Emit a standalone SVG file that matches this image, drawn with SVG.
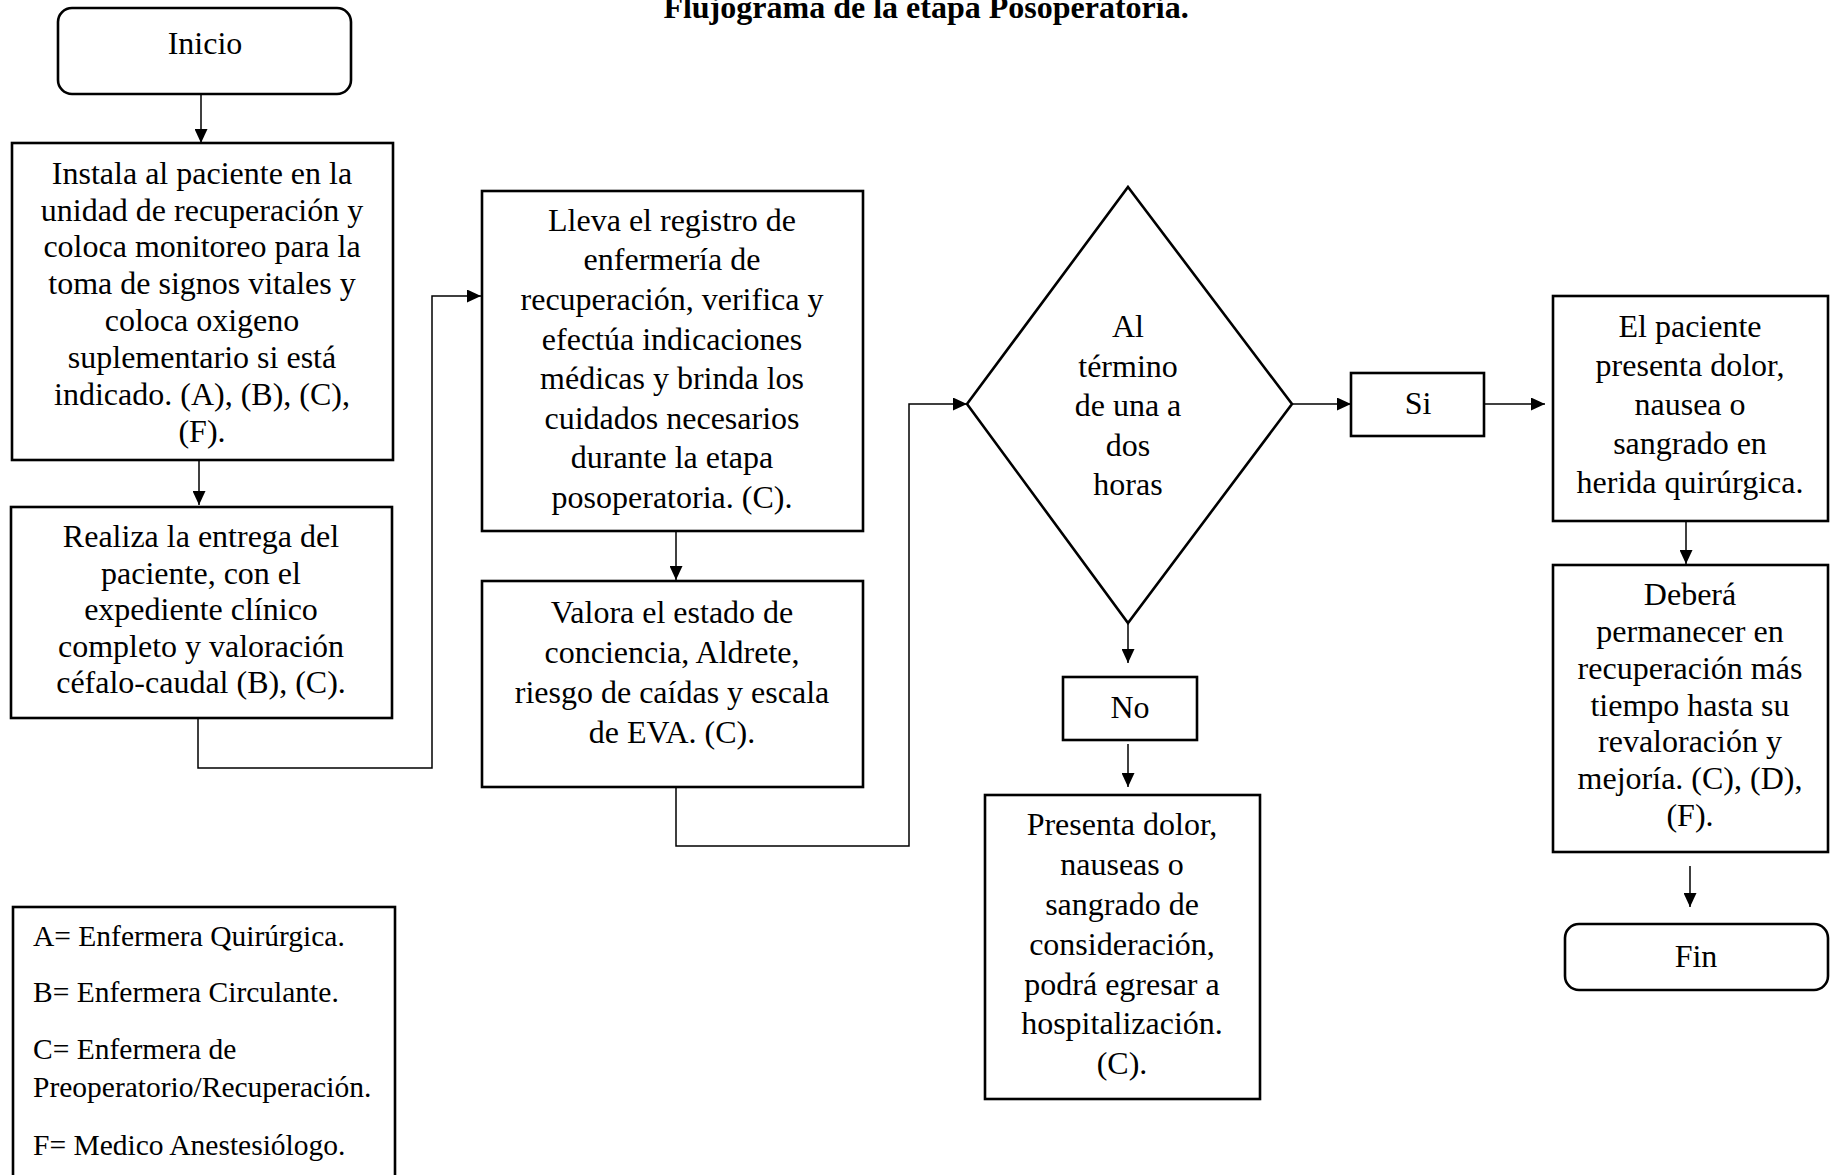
<svg xmlns="http://www.w3.org/2000/svg" width="1835" height="1175" viewBox="0 0 1835 1175">
<defs>
<style>
.box{fill:#fff;stroke:#000;stroke-width:2.6}
.t{font-family:"Liberation Serif","Times New Roman",serif;font-size:32px;fill:#000;text-anchor:middle}
.lg{font-family:"Liberation Serif","Times New Roman",serif;font-size:29.5px;fill:#000}
.ttl{font-family:"Liberation Serif","Times New Roman",serif;font-size:32px;font-weight:bold;fill:#000;text-anchor:middle}
.c{fill:none;stroke:#000;stroke-width:1.5}
</style>
<marker id="arr" markerWidth="14" markerHeight="13" refX="14" refY="6.5" orient="auto" markerUnits="userSpaceOnUse">
<path d="M0,0 L14,6.5 L0,13 z" fill="#000"/>
</marker>
</defs>
<rect width="1835" height="1175" fill="#fff"/>
<text class="ttl" x="926" y="18">Flujograma de la etapa Posoperatoria.</text>

<g id="connectors">
<path class="c" d="M201,95 V143" marker-end="url(#arr)"/>
<path class="c" d="M199,461 V505" marker-end="url(#arr)"/>
<path class="c" d="M198,719 V768 H432 V296 H481" marker-end="url(#arr)"/>
<path class="c" d="M676,532 V580" marker-end="url(#arr)"/>
<path class="c" d="M676,788 V846 H909 V404 H967" marker-end="url(#arr)"/>
<path class="c" d="M1292,404 H1351" marker-end="url(#arr)"/>
<path class="c" d="M1485,404 H1545" marker-end="url(#arr)"/>
<path class="c" d="M1686,522 V564" marker-end="url(#arr)"/>
<path class="c" d="M1690,866 V907" marker-end="url(#arr)"/>
<path class="c" d="M1128,624 V663" marker-end="url(#arr)"/>
<path class="c" d="M1128,744 V787" marker-end="url(#arr)"/>
</g>

<g id="inicio">
<rect class="box" x="58" y="8" width="293" height="86" rx="14"/>
<text class="t" x="205" y="54">Inicio</text>
</g>

<g id="instala">
<rect class="box" x="12" y="143" width="381" height="317"/>
<text class="t" x="202" y="184">Instala al paciente en la</text>
<text class="t" x="202" y="221">unidad de recuperación y</text>
<text class="t" x="202" y="257">coloca monitoreo para la</text>
<text class="t" x="202" y="294">toma de signos vitales y</text>
<text class="t" x="202" y="331">coloca oxigeno</text>
<text class="t" x="202" y="368">suplementario si está</text>
<text class="t" x="202" y="405">indicado. (A), (B), (C),</text>
<text class="t" x="202" y="442">(F).</text>
</g>

<g id="realiza">
<rect class="box" x="11" y="507" width="381" height="211"/>
<text class="t" x="201" y="547">Realiza la entrega del</text>
<text class="t" x="201" y="584">paciente, con el</text>
<text class="t" x="201" y="620">expediente clínico</text>
<text class="t" x="201" y="657">completo y valoración</text>
<text class="t" x="201" y="693">céfalo-caudal (B), (C).</text>
</g>

<g id="lleva">
<rect class="box" x="482" y="191" width="381" height="340"/>
<text class="t" x="672" y="231">Lleva el registro de</text>
<text class="t" x="672" y="270">enfermería de</text>
<text class="t" x="672" y="310">recuperación, verifica y</text>
<text class="t" x="672" y="350">efectúa indicaciones</text>
<text class="t" x="672" y="389">médicas y brinda los</text>
<text class="t" x="672" y="429">cuidados necesarios</text>
<text class="t" x="672" y="468">durante la etapa</text>
<text class="t" x="672" y="508">posoperatoria. (C).</text>
</g>

<g id="valora">
<rect class="box" x="482" y="581" width="381" height="206"/>
<text class="t" x="672" y="623">Valora el estado de</text>
<text class="t" x="672" y="663">conciencia, Aldrete,</text>
<text class="t" x="672" y="703">riesgo de caídas y escala</text>
<text class="t" x="672" y="743">de EVA. (C).</text>
</g>

<g id="decision">
<polygon class="box" points="1128,187 1292,404 1128,623 967,404"/>
<text class="t" x="1128" y="337">Al</text>
<text class="t" x="1128" y="377">término</text>
<text class="t" x="1128" y="416">de una a</text>
<text class="t" x="1128" y="456">dos</text>
<text class="t" x="1128" y="495">horas</text>
</g>

<g id="si">
<rect class="box" x="1351" y="373" width="133" height="63"/>
<text class="t" x="1418" y="414">Si</text>
</g>

<g id="paciente">
<rect class="box" x="1553" y="296" width="275" height="225"/>
<text class="t" x="1690" y="337">El paciente</text>
<text class="t" x="1690" y="376">presenta dolor,</text>
<text class="t" x="1690" y="415">nausea o</text>
<text class="t" x="1690" y="454">sangrado en</text>
<text class="t" x="1690" y="493">herida quirúrgica.</text>
</g>

<g id="debera">
<rect class="box" x="1553" y="565" width="275" height="287"/>
<text class="t" x="1690" y="605">Deberá</text>
<text class="t" x="1690" y="642">permanecer en</text>
<text class="t" x="1690" y="679">recuperación más</text>
<text class="t" x="1690" y="716">tiempo hasta su</text>
<text class="t" x="1690" y="752">revaloración y</text>
<text class="t" x="1690" y="789">mejoría. (C), (D),</text>
<text class="t" x="1690" y="826">(F).</text>
</g>

<g id="fin">
<rect class="box" x="1565" y="924" width="263" height="66" rx="14"/>
<text class="t" x="1696" y="967">Fin</text>
</g>

<g id="no">
<rect class="box" x="1063" y="677" width="134" height="63"/>
<text class="t" x="1130" y="718">No</text>
</g>

<g id="presenta">
<rect class="box" x="985" y="795" width="275" height="304"/>
<text class="t" x="1122" y="835">Presenta dolor,</text>
<text class="t" x="1122" y="875">nauseas o</text>
<text class="t" x="1122" y="915">sangrado de</text>
<text class="t" x="1122" y="955">consideración,</text>
<text class="t" x="1122" y="995">podrá egresar a</text>
<text class="t" x="1122" y="1034">hospitalización.</text>
<text class="t" x="1122" y="1074">(C).</text>
</g>

<g id="leyenda">
<rect class="box" x="13" y="907" width="382" height="300"/>
<text class="lg" x="33" y="946">A= Enfermera Quirúrgica.</text>
<text class="lg" x="33" y="1002">B= Enfermera Circulante.</text>
<text class="lg" x="33" y="1059">C= Enfermera de</text>
<text class="lg" x="33" y="1097">Preoperatorio/Recuperación.</text>
<text class="lg" x="33" y="1155">F= Medico Anestesiólogo.</text>
</g>
</svg>
